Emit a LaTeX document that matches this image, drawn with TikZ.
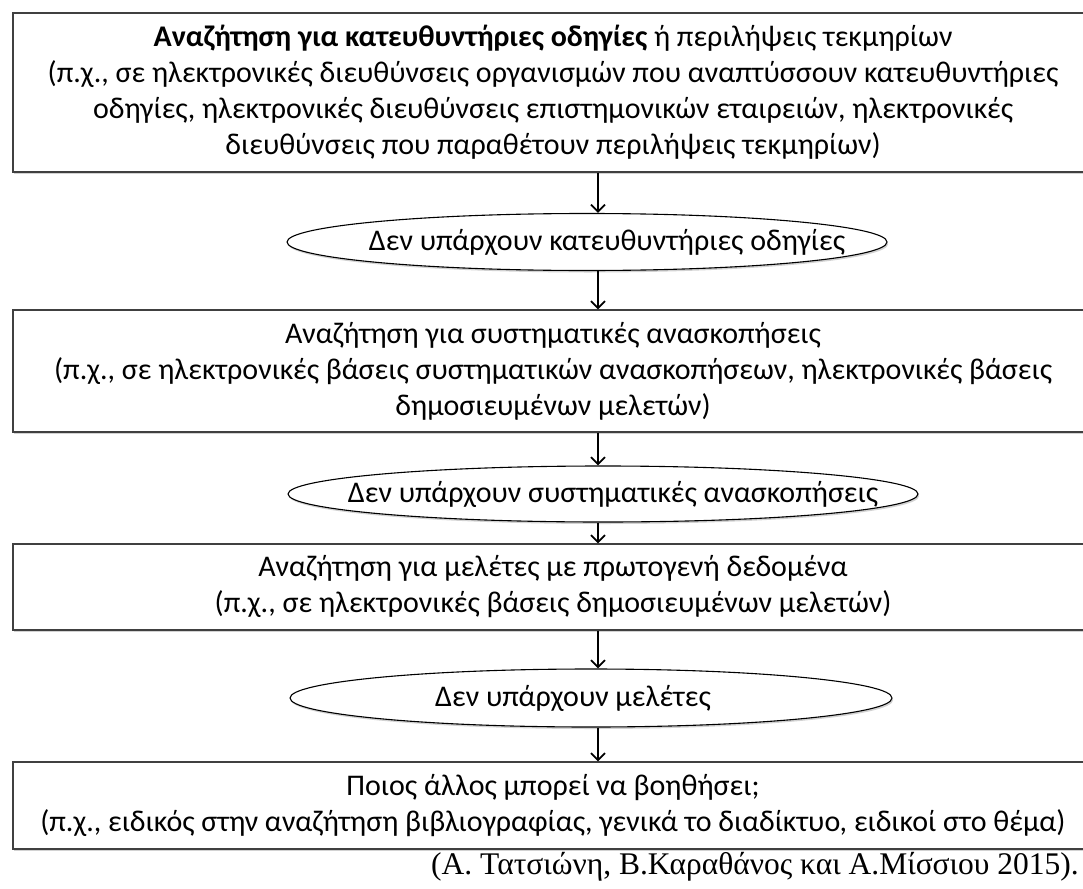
\documentclass[tikz,border=0pt]{standalone}
\usepackage{fontspec}
\setmainfont{Carlito}
\newfontfamily\capfont{Liberation Serif}
\usetikzlibrary{shapes.geometric,arrows.meta,shadows}
\begin{document}
\begin{tikzpicture}[x=1pt,y=-1pt,
  box/.style={draw=black!75, line width=1.3pt, fill=white, rectangle,
    minimum width=1080pt, inner sep=0pt, align=center,
    font=\fontsize{30}{36}\selectfont,
    drop shadow={shadow xshift=0.8pt, shadow yshift=-1.5pt, opacity=0.35}},
  oval/.style={draw=black, line width=1.1pt, fill=white, ellipse, inner sep=0pt,
    drop shadow={shadow xshift=1.2pt, shadow yshift=-2pt, opacity=0.35}},
  ovaltext/.style={font=\fontsize{30}{36}\selectfont, inner sep=0pt},
  arr/.style={line width=1.8pt, -{Straight Barb[length=7pt,width=14pt,line width=1.8pt]}}
]
\useasboundingbox[fill=white] (0,0) rectangle (1083,888);

\node[box, minimum height=159pt] (b1) at (553,92.5)
  {\textbf{Αναζήτηση για κατευθυντήριες οδηγίες} ή περιλήψεις τεκμηρίων\\
   (π.χ., σε ηλεκτρονικές διευθύνσεις οργανισμών που αναπτύσσουν κατευθυντήριες\\
   οδηγίες, ηλεκτρονικές διευθύνσεις επιστημονικών εταιρειών, ηλεκτρονικές\\
   διευθύνσεις που παραθέτουν περιλήψεις τεκμηρίων)};

\node[oval, minimum width=600pt, minimum height=57pt] (e1) at (587,242) {};
\node[ovaltext] (t1) at (607,242) {Δεν υπάρχουν κατευθυντήριες οδηγίες};

\node[box, minimum height=122pt] (b2) at (553,371)
  {Αναζήτηση για συστηματικές ανασκοπήσεις\\
   (π.χ., σε ηλεκτρονικές βάσεις συστηματικών ανασκοπήσεων, ηλεκτρονικές βάσεις\\
   δημοσιευμένων μελετών)};

\node[oval, minimum width=630pt, minimum height=56pt] (e2) at (603,494) {};
\node[ovaltext] (t2) at (613,494) {Δεν υπάρχουν συστηματικές ανασκοπήσεις};

\node[box, minimum height=86pt] (b3) at (553,587)
  {Αναζήτηση για μελέτες με πρωτογενή δεδομένα\\
   (π.χ., σε ηλεκτρονικές βάσεις δημοσιευμένων μελετών)};

\node[oval, minimum width=602pt, minimum height=58pt] (e3) at (591,698) {};
\node[ovaltext] (t3) at (573,698) {Δεν υπάρχουν μελέτες};

\node[box, minimum height=87pt] (b4) at (553,805.5)
  {Ποιος άλλος μπορεί να βοηθήσει;\\
   (π.χ., ειδικός στην αναζήτηση βιβλιογραφίας, γενικά το διαδίκτυο, ειδικοί στο θέμα)};

\node[anchor=base east, inner sep=0pt, font=\capfont\fontsize{31.5}{34}\selectfont] (cap) at (1079,874)
  {(Α. Τατσιώνη, Β.Καραθάνος και Α.Μίσσιου 2015).};

\coordinate (ax) at (598,0);
\draw[arr] (b1.south -| ax) -- (e1.north -| ax);
\draw[arr] (e1.south -| ax) -- (b2.north -| ax);
\draw[arr] (b2.south -| ax) -- (e2.north -| ax);
\draw[arr] (e2.south -| ax) -- (b3.north -| ax);
\draw[arr] (b3.south -| ax) -- (e3.north -| ax);
\draw[arr] (e3.south -| ax) -- (b4.north -| ax);
\end{tikzpicture}
\end{document}
